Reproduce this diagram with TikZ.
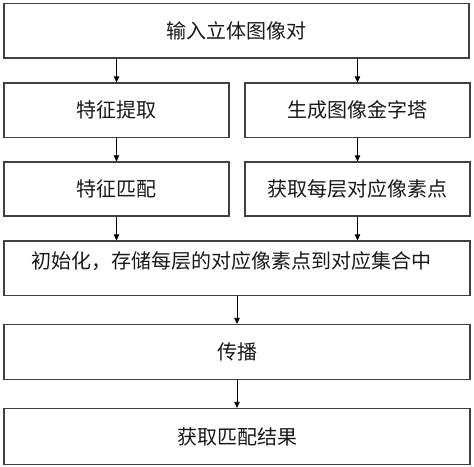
\documentclass[tikz,border=0pt]{standalone}
\usepackage{fontspec}
\newfontfamily\cjk{Noto Sans CJK SC}
\usetikzlibrary{arrows.meta}
\begin{document}
\begin{tikzpicture}[x=1pt,y=-1pt,
  box/.style={draw=black!75, line width=1.2pt, inner sep=0pt, fill=white},
  txt/.style={font=\cjk\fontsize{20}{22}\selectfont, inner sep=0pt, text=black!90},
  arr/.style={draw=black, line width=0.8pt, -{Triangle[length=6pt,width=5.5pt]}}]
\useasboundingbox[fill=white] (0,0) rectangle (474,466);
\node[box, minimum width=465, minimum height=54.5] (b1) at (236.5,30.75) {};
\node[txt] at (b1) {输入立体图像对};
\node[box, minimum width=225, minimum height=54.5] (l2) at (116.5,110.25) {};
\node[txt] at (l2) {特征提取};
\node[box, minimum width=225, minimum height=54.5] (r2) at (357.5,110.25) {};
\node[txt] at (r2) {生成图像金字塔};
\node[box, minimum width=225, minimum height=54] (l3) at (116.5,189) {};
\node[txt] at (l3) {特征匹配};
\node[box, minimum width=225, minimum height=54] (r3) at (357.5,189) {};
\node[txt] at (r3) {获取每层对应像素点};
\node[box, minimum width=466, minimum height=54.5] (b4) at (237,268.25) {};
\node[txt] (t4) at (231,261) {初始化，存储每层的对应像素点到对应集合中};
\node[box, minimum width=466, minimum height=55] (b5) at (237,352) {};
\node[txt] at (b5) {传播};
\node[box, minimum width=466, minimum height=56] (b6) at (237,436.5) {};
\node[txt] at (b6) {获取匹配结果};
\draw[arr] (b1.south -| l2.north) -- (l2.north);
\draw[arr] (b1.south -| r2.north) -- (r2.north);
\draw[arr] (l2.south) -- (l3.north);
\draw[arr] (r2.south) -- (r3.north);
\draw[arr] (l3.south) -- (b4.north -| l3.south);
\draw[arr] (r3.south) -- (b4.north -| r3.south);
\draw[arr] (b4.south) -- (b5.north);
\draw[arr] (b5.south) -- (b6.north);
\end{tikzpicture}
\end{document}
